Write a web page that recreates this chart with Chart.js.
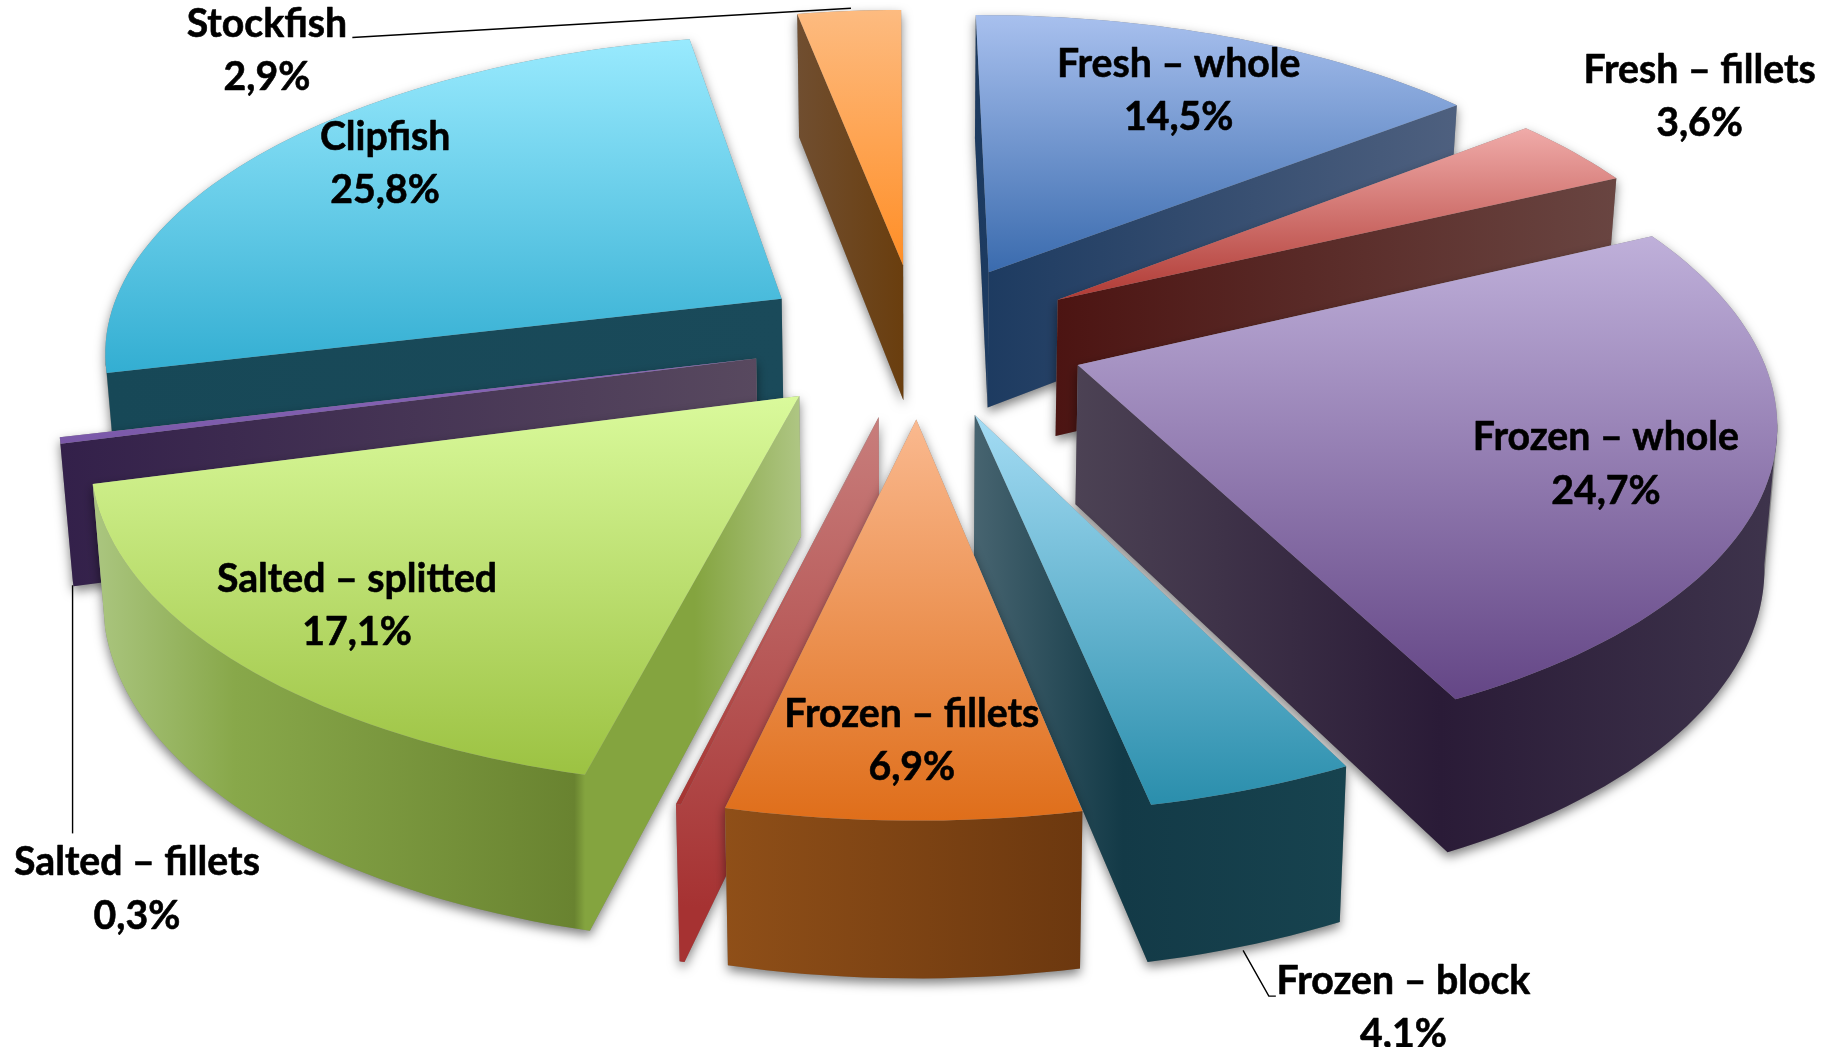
<!DOCTYPE html>
<html><head><meta charset="utf-8">
<style>html,body{margin:0;padding:0;background:#fff;overflow:hidden}canvas{display:block}</style>
<script src="https://cdn.jsdelivr.net/npm/chart.js@4"></script>
</head><body>
<canvas id="c" width="1826" height="1047" style="width:1826px;height:1047px"></canvas>
<script>
// ---- data ----
const categories = ['Fresh – whole','Fresh – fillets','Frozen – whole','Frozen – block','Frozen – fillets','','Salted – splitted','Salted – fillets','Clipfish','Stockfish'];
const values = [14.5,3.6,24.7,4.1,6.9,0.1,17.1,0.3,25.8,2.9];
// ---- styles ----
const topLight = ['#A8C0EE','#F0ABA9','#BFB0DA','#A4DCF4','#FAB98F','#CF8280','#DAFA9C','#8A68BA','#99EAFE','#FDBB80'];
const topDark  = ['#3A6BAE','#B03A34','#644686','#2A8EAC','#DF6E1A','#A63432','#9CC242','#7A58A8','#33AED2','#FF8E26'];
const wallStops = [
 [[0,'#1C3A60'],[1,'#4E607F']],
 [[0,'#4C1412'],[1,'#694541']],
 [[0,'#4C4254'],[.52,'#2A1B37'],[1,'#3E344C']],
 [[0,'#476470'],[.4,'#133A47'],[1,'#17434F']],
 [[0,'#8F4F18'],[1,'#6C380F']],
 [[0,'#C87E7C'],[.9,'#A63232'],[1,'#A63232']],
 [[0,'#ABC680'],[.2,'#88A84A'],[.68,'#698330'],[.695,'#84A43F'],[.85,'#84A43F'],[1,'#AFC684']],
 [[0,'#33204A'],[1,'#58495F']],
 [[0,'#174857'],[1,'#1A4A5A']],
 [[0,'#704E30'],[1,'#6A3E0E']]
];
const labelPos = [[1007,55],[1452,60],[1372,374],[1199,838],[779,610],null,[305,495],[117,737],[329,117],[228,21]];
const leaders = [[[301,32],[727,7]],[[62,500],[62,712]],[[1062,812],[1084,851],[1090,851]]];
const view = {scale:1826/1560,cx:785,cy:290,S:580,p:0.15,k:0.463,explode:0.245,wall:118,wallP:0.1,wallShrink:0.985,rotation:-0.4};

const project=(X,Y)=>{const s=view.S/(1-view.p*Y);return [view.cx+X*s,view.cy+view.k*Y*s];};
const drop=(X,Y)=>{const q=project(X,Y);return [view.cx+(q[0]-view.cx)*view.wallShrink,q[1]+view.wall/(1-view.wallP*Y)];};
const poly=(ctx,pts)=>{pts.forEach((p,i)=>i?ctx.lineTo(p[0],p[1]):ctx.moveTo(p[0],p[1]));ctx.closePath();};
const area=pts=>pts.reduce((a,p,i)=>{const q=pts[(i+1)%pts.length];return a+p[0]*q[1]-q[0]*p[1];},0);

const pie3d={id:'pie3d',beforeDatasetsDraw(chart){
  const ctx=chart.ctx,arcs=chart.getDatasetMeta(0).data;
  const items=arcs.map((a,i)=>{
    const mid=(a.startAngle+a.endAngle)/2;
    const ox=Math.cos(mid)*view.explode,oy=Math.sin(mid)*view.explode;
    const world=[[ox,oy]];const n=Math.max(2,Math.ceil((a.endAngle-a.startAngle)*40));
    for(let j=0;j<=n;j++){const t=a.startAngle+(a.endAngle-a.startAngle)*j/n;world.push([ox+Math.cos(t),oy+Math.sin(t)]);}
    return {i,oy:Math.sin(mid),world};
  }).sort((a,b)=>a.oy-b.oy);
  ctx.save();ctx.scale(view.scale,view.scale);
  items.forEach(({i,world})=>{
    const top=world.map(w=>project(w[0],w[1])),bot=world.map(w=>drop(w[0],w[1])),m=top.length;
    // soft shadow of the whole solid
    ctx.save();ctx.shadowColor='rgba(0,0,0,.5)';ctx.shadowBlur=11;ctx.shadowOffsetX=0;ctx.shadowOffsetY=5;
    ctx.fillStyle='#888';ctx.beginPath();
    const add=pts=>poly(ctx,area(pts)<0?pts.slice().reverse():pts);
    add(top);add(bot);
    for(let j=0;j<m;j++){const k=(j+1)%m;add([top[j],top[k],bot[k],bot[j]]);}
    ctx.fill();ctx.restore();
    // front walls: contiguous runs of polygon edges heading left on screen
    const runs=[];let run=null;
    for(let j=0;j<m;j++){const k=(j+1)%m;
      if(top[k][0]<top[j][0]){if(!run){run=[j];runs.push(run);}run.push(k);}else run=null;}
    const xs=runs.flat().flatMap(j=>[top[j][0],bot[j][0]]);
    if(xs.length){
      const x0=Math.min(...xs),x1=Math.max(...xs);
      const ys=runs.flat().flatMap(j=>[top[j][1],bot[j][1]]);
      const vertical=(i===5);
      const g=vertical?ctx.createLinearGradient(0,Math.min(...ys),0,Math.max(...ys)):ctx.createLinearGradient(x0,0,x1,0);
      wallStops[i].forEach(s=>g.addColorStop(s[0],s[1]));
      ctx.fillStyle=g;
      runs.forEach(r=>{ctx.beginPath();poly(ctx,r.map(j=>top[j]).concat(r.slice().reverse().map(j=>bot[j])));ctx.fill();});
    }
    // top face
    const ty=top.map(p=>p[1]),g2=ctx.createLinearGradient(0,Math.min(...ty),0,Math.max(...ty));
    g2.addColorStop(0,topLight[i]);g2.addColorStop(1,topDark[i]);
    ctx.fillStyle=g2;ctx.beginPath();poly(ctx,top);ctx.fill();
  });
  // leaders
  ctx.strokeStyle='#000';ctx.lineWidth=1.2;
  leaders.forEach(l=>{ctx.beginPath();l.forEach((p,i)=>i?ctx.lineTo(p[0],p[1]):ctx.moveTo(p[0],p[1]));ctx.stroke();});
  // labels
  ctx.fillStyle='#000';ctx.strokeStyle='#000';ctx.lineWidth=0.5;ctx.lineJoin='round';ctx.textAlign='center';ctx.textBaseline='middle';
  ctx.font='bold 33.5px Lato, "Open Sans", sans-serif';
  categories.forEach((c,i)=>{ if(!labelPos[i])return;
    const [x,y]=labelPos[i],v=values[i].toFixed(1).replace('.',',')+'%';
    ctx.fillText(c,x,y);ctx.strokeText(c,x,y);
    ctx.fillText(v,x,y+45.5);ctx.strokeText(v,x,y+45.5);
  });
  ctx.restore();
  return false;
}};
new Chart(document.getElementById('c'),{type:'pie',
  data:{labels:categories,datasets:[{data:values,backgroundColor:topDark,borderWidth:0}]},
  options:{responsive:false,animation:false,rotation:view.rotation,devicePixelRatio:1,
    plugins:{legend:{display:false},tooltip:{enabled:false}},layout:{padding:0}},
  plugins:[pie3d]});
</script>
</body></html>
